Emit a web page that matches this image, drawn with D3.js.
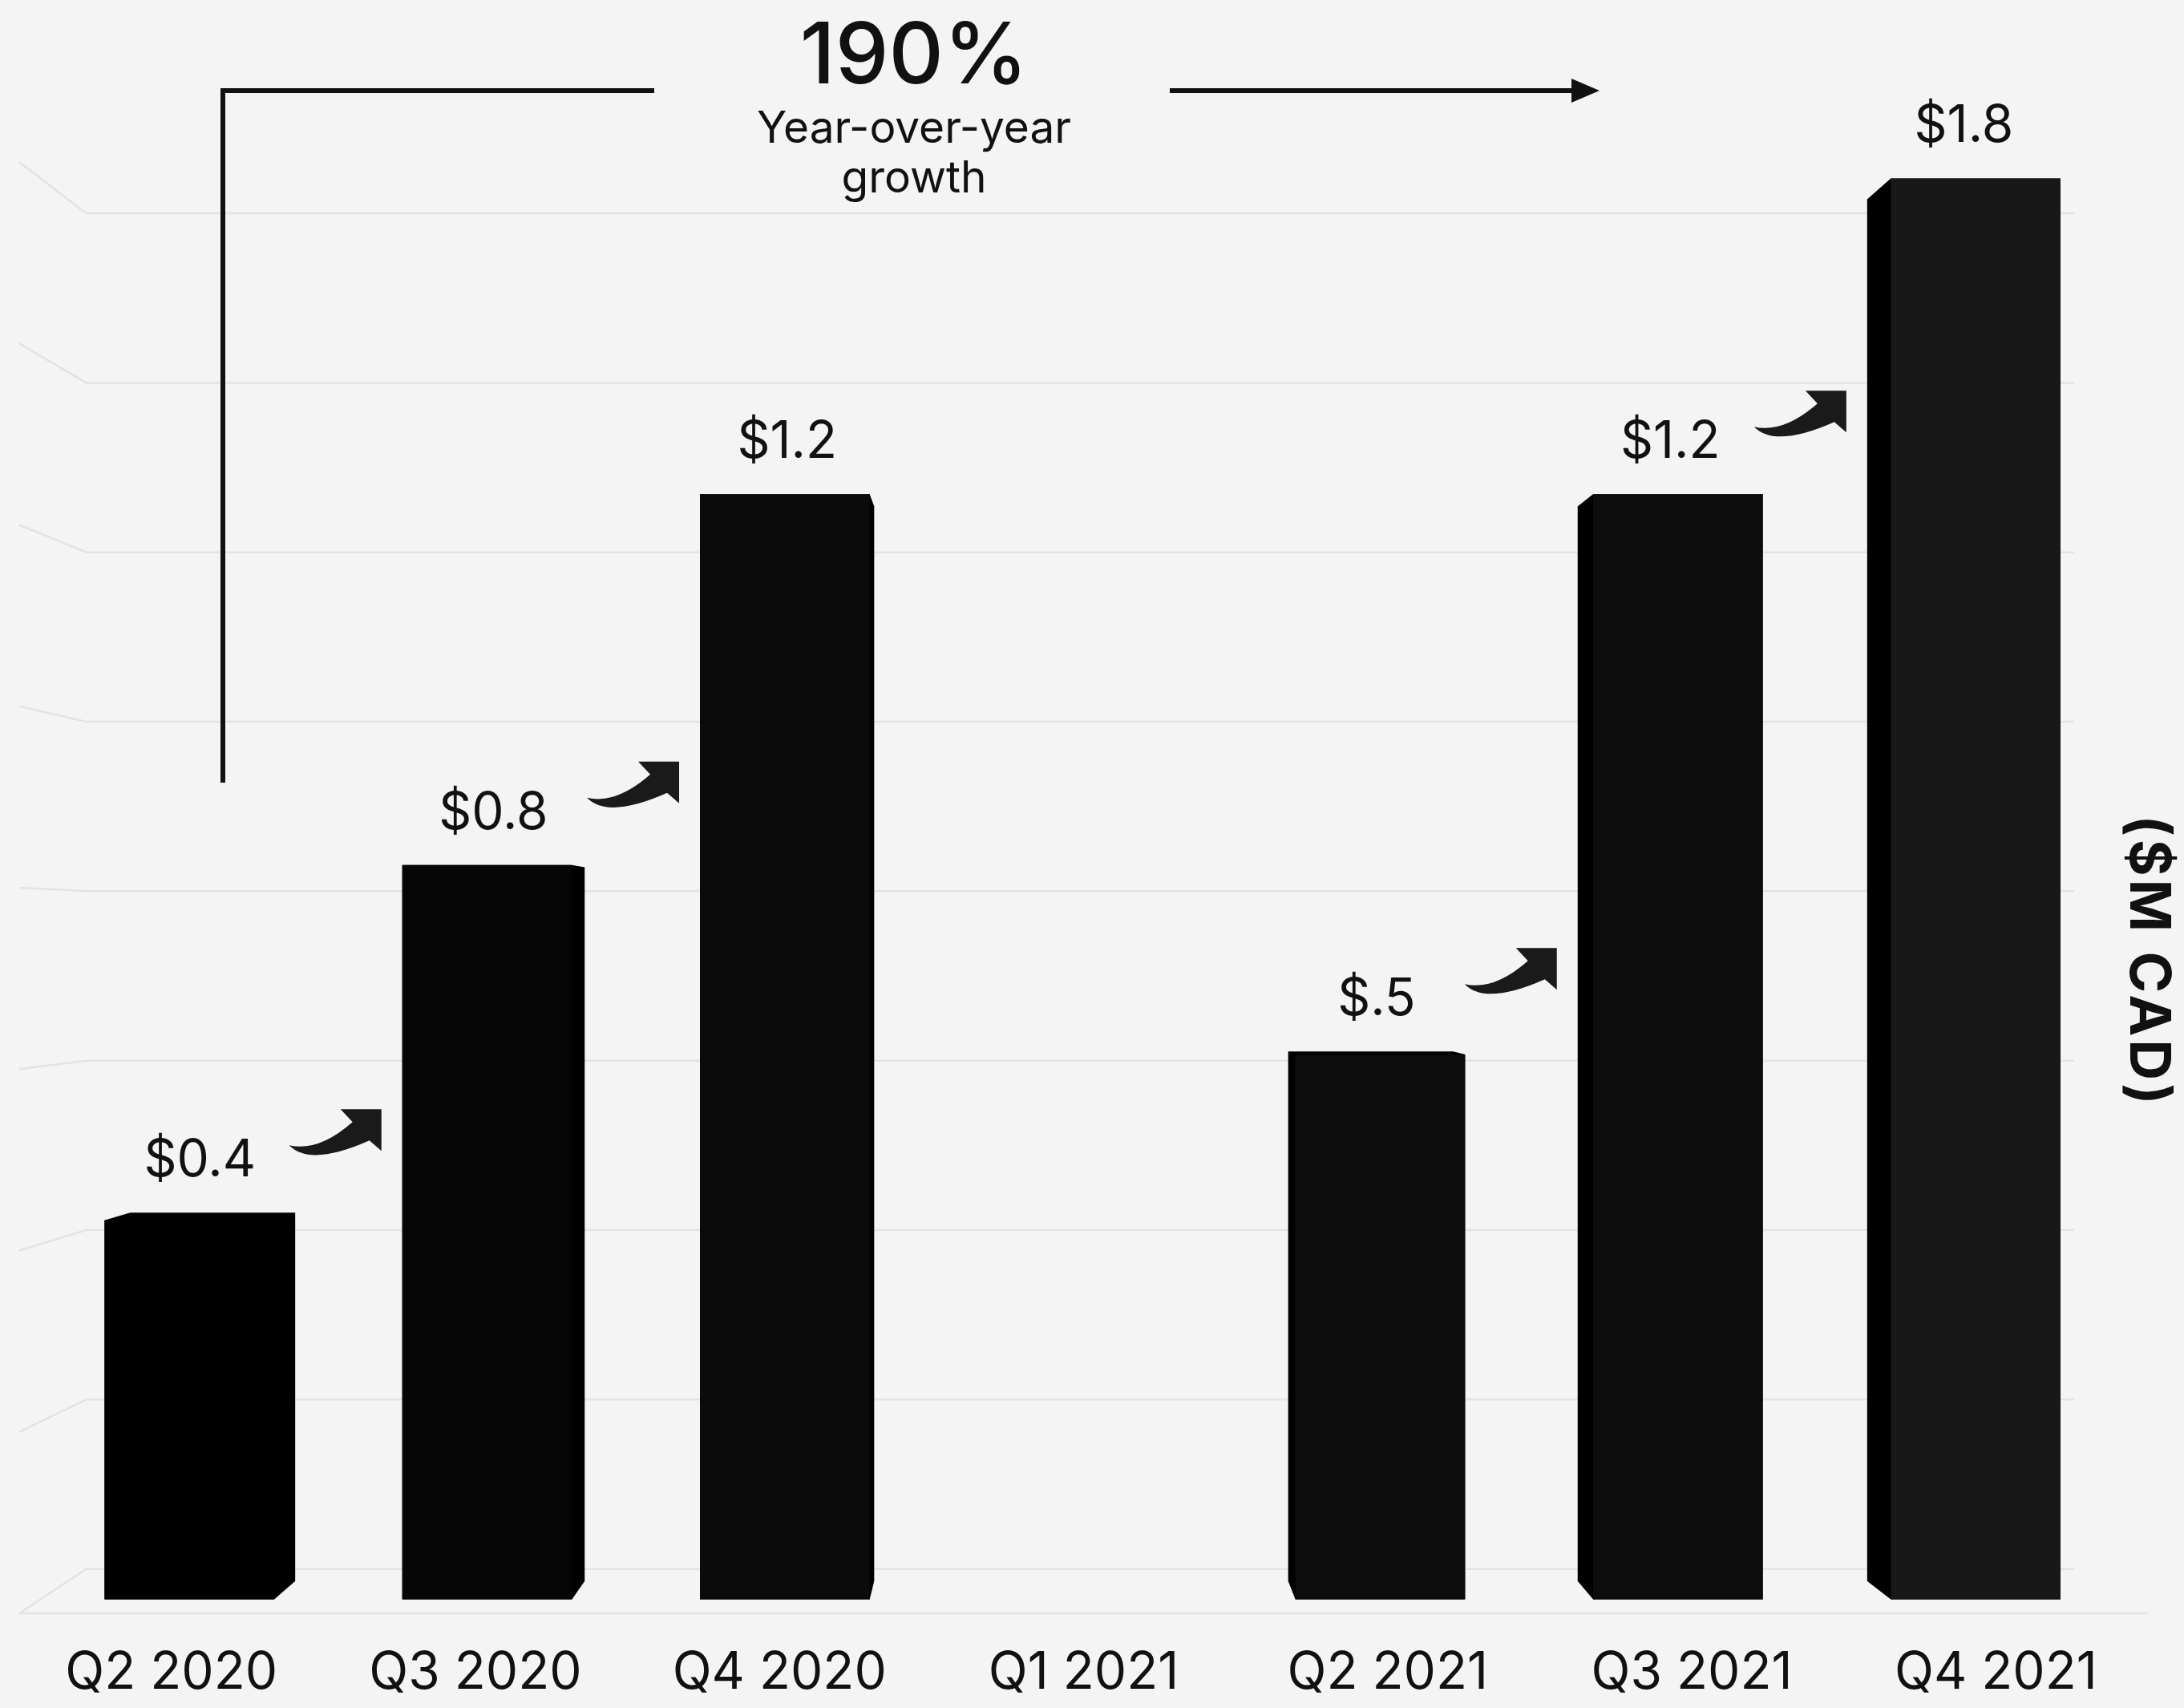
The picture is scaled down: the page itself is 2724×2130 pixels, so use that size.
<!DOCTYPE html>
<html>
<head>
<meta charset="utf-8">
<script src="https://cdn.jsdelivr.net/npm/d3@7"></script>
<style>
  html, body { margin: 0; padding: 0; background: #f4f4f4; }
  text { font-family: Inter, "Open Sans", sans-serif; fill: #111; }
</style>
</head>
<body>
<div id="chart"></div>
<script>
// quarterly revenue, drawn as a 3D column chart
var categories = ["Q2 2020", "Q3 2020", "Q4 2020", "Q1 2021", "Q2 2021", "Q3 2021", "Q4 2021"];
var revenue = [0.48, 0.93, 1.40, null, 0.69, 1.40, 1.80];   // bar heights as drawn
var valueLabels = ["$0.4", "$0.8", "$1.2", "", "$.5", "$1.2", "$1.8"];
var gridTicks = [0, 0.225, 0.45, 0.675, 0.9, 1.125, 1.35, 1.575, 1.8];
var growthValue = "190%";
var growthText = ["Year-over-year", "growth"];
var unitLabel = "($M CAD)";

var width = 2724, height = 2130;

// perspective: vanishing point and depth factors
var vx = 1289, vy = 1173;
var fFront = 0.979, fBack = 0.952, fWall = 0.934;

function proj(X, Y, f) {
  return [vx + f * (X - vx), vy + f * (Y - vy)];
}

var svg = d3.select("#chart").append("svg")
    .attr("width", width)
    .attr("height", height);

svg.append("rect")
    .attr("width", width)
    .attr("height", height)
    .attr("fill", "#f4f4f4");

var x = d3.scaleBand()
    .domain(categories)
    .range([24, 2679])
    .paddingInner(0.43)
    .paddingOuter(0.215);

var y = d3.scaleLinear()
    .domain([0, 1.8])
    .range([2012, 202]);

var line = d3.line();

// grid on back wall + left wall
var grid = svg.append("g")
    .attr("fill", "none")
    .attr("stroke", "#e3e3e3")
    .attr("stroke-width", 2.5);

grid.selectAll(".back").data(gridTicks).enter()
  .append("path")
    .attr("class", "back")
    .attr("d", function(t) {
      return line([proj(24, y(t), 1), proj(24, y(t), fWall), proj(2679, y(t), fWall)]);
    });

// front edge of the floor
grid.append("path")
    .attr("d", line([proj(24, y(0), 1), proj(2679, y(0), 1)]));

// bars
var shade = d3.scaleLinear()
    .domain([0, 2, 5, 6])
    .range(["#000000", "#0b0b0b", "#0c0c0c", "#181818"]);

var bars = categories.map(function(c, i) {
  if (revenue[i] == null) return null;
  var X0 = x(c), X1 = X0 + x.bandwidth();
  var Yt = y(revenue[i]), Yb = y(0);
  var corners = [[X0, Yt], [X1, Yt], [X1, Yb], [X0, Yb]];
  var front = corners.map(function(p) { return proj(p[0], p[1], fFront); });
  var back = corners.map(function(p) { return proj(p[0], p[1], fBack); });
  var hull = d3.polygonHull(front.concat(back));
  var xs = hull.map(function(p) { return p[0]; });
  return {
    i: i,
    front: front,
    hull: hull,
    top: d3.min(hull, function(p) { return p[1]; }),
    left: d3.min(xs),
    cx: (d3.min(xs) + d3.max(xs)) / 2
  };
});
var drawn = bars.filter(function(b) { return b; });

var g = svg.append("g");

g.selectAll(".hull").data(drawn).enter()
  .append("path")
    .attr("class", "hull")
    .attr("d", function(b) { return "M" + b.hull.join("L") + "Z"; })
    .attr("fill", "#000");

g.selectAll(".front").data(drawn).enter()
  .append("path")
    .attr("class", "front")
    .attr("d", function(b) { return "M" + b.front.join("L") + "Z"; })
    .attr("fill", function(b) { return shade(b.i); });

// value labels
svg.selectAll(".value").data(drawn).enter()
  .append("text")
    .attr("class", "value")
    .attr("x", function(b) { return b.cx; })
    .attr("y", function(b) { return b.top - 45; })
    .attr("text-anchor", "middle")
    .style("font-size", "64px")
    .text(function(b) { return valueLabels[b.i]; });

// curved growth arrows between consecutive bars
var pairs = [];
for (var i = 0; i < bars.length - 1; i++) {
  if (bars[i] && bars[i + 1]) pairs.push([bars[i], bars[i + 1]]);
}
svg.selectAll(".grow").data(pairs).enter()
  .append("path")
    .attr("class", "grow")
    .attr("d", "M0,45Q36.5,53.5 79,16L64,0L115,0L115,52L100,39Q26,72 0,45Z")
    .attr("fill", "#1a1a1a")
    .attr("transform", function(p) {
      return "translate(" + (p[1].left - 26 - 115) + "," + (p[0].top - 72 - 57) + ")";
    });

// x labels
svg.selectAll(".cat").data(categories).enter()
  .append("text")
    .attr("class", "cat")
    .attr("x", function(c) { return x(c) + x.bandwidth() / 2; })
    .attr("y", 2106)
    .attr("text-anchor", "middle")
    .style("font-size", "64px")
    .text(function(c) { return c; });

// unit label on the right
svg.append("text")
    .attr("transform", "translate(2681,1199) rotate(90)")
    .attr("text-anchor", "middle")
    .attr("dy", "0.35em")
    .style("font-size", "70px")
    .style("font-weight", 700)
    .style("letter-spacing", "4px")
    .text(unitLabel);

// growth annotation at the top
var ann = svg.append("g");
ann.append("path")
    .attr("d", "M278,976V113H816")
    .attr("fill", "none")
    .attr("stroke", "#111")
    .attr("stroke-width", 6);
ann.append("path")
    .attr("d", "M1459,113H1968")
    .attr("fill", "none")
    .attr("stroke", "#111")
    .attr("stroke-width", 6);
ann.append("path")
    .attr("d", "M1960,98L1995,113L1960,128Z")
    .attr("fill", "#111");

ann.append("text")
    .attr("x", 1140)
    .attr("y", 104)
    .attr("text-anchor", "middle")
    .style("font-size", "106px")
    .style("font-weight", 500)
    .text(growthValue);

ann.selectAll(".sub").data(growthText).enter()
  .append("text")
    .attr("class", "sub")
    .attr("x", 1140)
    .attr("y", function(d, i) { return 178 + i * 62; })
    .attr("text-anchor", "middle")
    .style("font-size", "55px")
    .text(function(d) { return d; });
</script>
</body>
</html>
